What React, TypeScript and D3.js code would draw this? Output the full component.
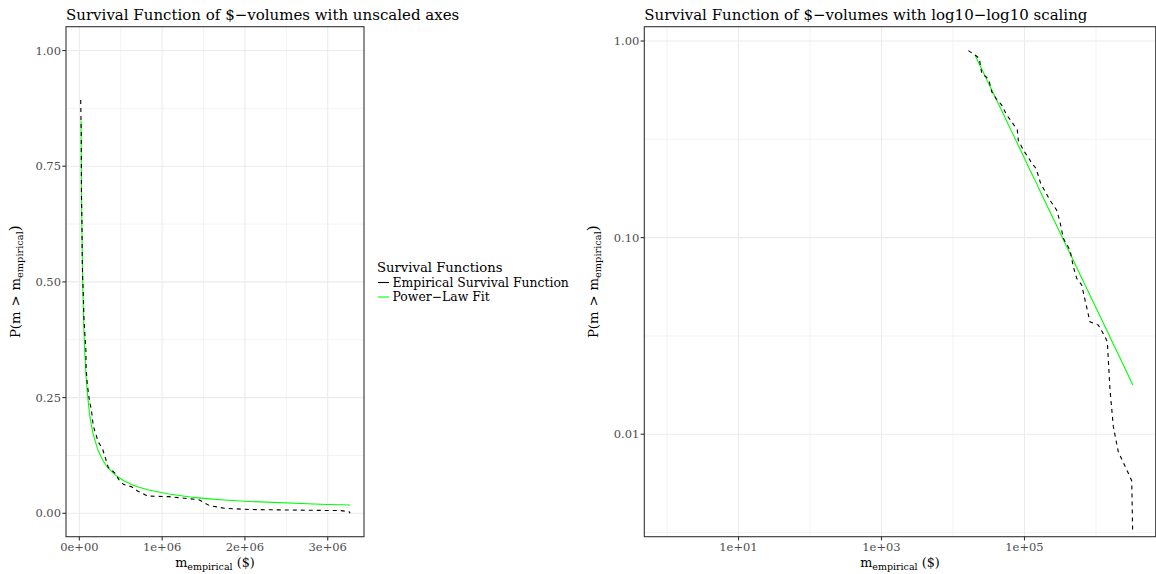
import React from 'react';
import * as d3 from 'd3';

// Dollar volume (m) at which the survival function is evaluated
const volumes = [
  16400, 20300, 23300, 25200, 29600, 32200, 34800, 39900, 48000, 56400,
  66200, 79300, 81900, 96200, 119000, 126000, 145000, 168000, 227000, 282000,
  314000, 349000, 433000, 482000, 537000, 631000, 702000, 824000, 1080000, 1340000,
  1440000, 1570000, 1750000, 2050000, 2990000, 3160000, 3260000, 3270000,
];

// Empirical P(m > m_empirical)
const empiricalSurvival = [
  0.893, 0.849, 0.817, 0.685, 0.653, 0.621, 0.552, 0.511, 0.472, 0.42,
  0.389, 0.352, 0.313, 0.279, 0.248, 0.239, 0.225, 0.189, 0.155, 0.138,
  0.12, 0.0991, 0.0865, 0.0711, 0.0621, 0.0574, 0.0482, 0.0373, 0.0359, 0.0313,
  0.0295, 0.0168, 0.0109, 0.00815, 0.00608, 0.0058, 0.00313, 0,
];

// Fitted power-law survival (defined from x_min upward)
const powerLawFit: (number | null)[] = [
  null, 0.849, 0.764, 0.721, 0.638, 0.598, 0.565, 0.508, 0.443, 0.391,
  0.346, 0.302, 0.294, 0.261, 0.221, 0.212, 0.191, 0.17, 0.1355, 0.115,
  0.106, 0.0977, 0.0831, 0.0766, 0.0705, 0.0624, 0.0575, 0.0509, 0.0415, 0.0352,
  0.0334, 0.0312, 0.0287, 0.0255, 0.0191, 0.0183, 0.0179, 0.0178,
];

const linearXTicks = [0, 1e6, 2e6, 3e6];
const linearXTickLabels = ['0e+00', '1e+06', '2e+06', '3e+06'];
const linearXMinor = [5e5, 1.5e6, 2.5e6];
const linearYTicks = [0, 0.25, 0.5, 0.75, 1];
const linearYTickLabels = ['0.00', '0.25', '0.50', '0.75', '1.00'];
const linearYMinor = [0.125, 0.375, 0.625, 0.875];

const logXTicks = [1e1, 1e3, 1e5];
const logXTickLabels = ['1e+01', '1e+03', '1e+05'];
const logXMinor = [1, 1e2, 1e4, 1e6];
const logYTicks = [0.01, 0.1, 1];
const logYTickLabels = ['0.01', '0.10', '1.00'];
const logYMinor = [Math.pow(10, -2.5), Math.pow(10, -1.5), Math.pow(10, -0.5)];

const titles = [
  'Survival Function of $\u2212volumes with unscaled axes',
  'Survival Function of $\u2212volumes with log10\u2212log10 scaling',
];
const legendTitle = 'Survival Functions';
const legendLabels = ['Empirical Survival Function', 'Power\u2212Law Fit'];
const seriesColors = ['#000000', '#00ff00'];

const FONT = '"DejaVu Serif", "Liberation Serif", serif';
const GRID = '#ebebeb';
const TICK_TEXT = '#4d4d4d';
const BORDER = '#333333';

const TOP = 26.7;
const BOTTOM = 536.7;

type Scale = (v: number) => number;

interface PanelProps {
  x: Scale;
  y: Scale;
  left: number;
  right: number;
  title: string;
  xTicks: number[];
  xLabels: string[];
  xMinor: number[];
  yTicks: number[];
  yLabels: string[];
  yMinor: number[];
  keep: (v: number) => boolean;
}

function Panel(p: PanelProps) {
  const emp = volumes
    .map((v, i) => [v, empiricalSurvival[i]] as [number, number])
    .filter((d) => p.keep(d[0]) && p.keep(d[1]));
  const fit = volumes
    .map((v, i) => [v, powerLawFit[i]] as [number, number | null])
    .filter((d) => d[1] !== null && p.keep(d[1] as number)) as [number, number][];

  const line = d3
    .line<[number, number]>()
    .x((d) => p.x(d[0]))
    .y((d) => p.y(d[1]));

  const cx = (p.left + p.right) / 2;
  const cy = (TOP + BOTTOM) / 2;

  return (
    <g>
      <text x={p.left} y={19.5} fontFamily={FONT} fontSize={15} fill="#000">
        {p.title}
      </text>
      <rect x={p.left} y={TOP} width={p.right - p.left} height={BOTTOM - TOP} fill="#fff" />
      {p.xMinor.map((v) => (
        <line key={'xm' + v} x1={p.x(v)} x2={p.x(v)} y1={TOP} y2={BOTTOM} stroke={GRID} strokeWidth={0.6} />
      ))}
      {p.yMinor.map((v) => (
        <line key={'ym' + v} x1={p.left} x2={p.right} y1={p.y(v)} y2={p.y(v)} stroke={GRID} strokeWidth={0.6} />
      ))}
      {p.xTicks.map((v) => (
        <line key={'xg' + v} x1={p.x(v)} x2={p.x(v)} y1={TOP} y2={BOTTOM} stroke={GRID} strokeWidth={1.1} />
      ))}
      {p.yTicks.map((v) => (
        <line key={'yg' + v} x1={p.left} x2={p.right} y1={p.y(v)} y2={p.y(v)} stroke={GRID} strokeWidth={1.1} />
      ))}
      <path d={line(fit) || ''} fill="none" stroke={seriesColors[1]} strokeWidth={1.1} />
      <path d={line(emp) || ''} fill="none" stroke={seriesColors[0]} strokeWidth={1.1} strokeDasharray="4,4" />
      <rect x={p.left} y={TOP} width={p.right - p.left} height={BOTTOM - TOP} fill="none" stroke={BORDER} strokeWidth={1.1} />
      {p.xTicks.map((v, i) => (
        <g key={'xt' + v}>
          <line x1={p.x(v)} x2={p.x(v)} y1={BOTTOM} y2={BOTTOM + 3.7} stroke={BORDER} strokeWidth={1.1} />
          <text x={p.x(v)} y={BOTTOM + 14.5} textAnchor="middle" fontFamily={FONT} fontSize={11.5} fill={TICK_TEXT}>
            {p.xLabels[i]}
          </text>
        </g>
      ))}
      {p.yTicks.map((v, i) => (
        <g key={'yt' + v}>
          <line x1={p.left - 3.7} x2={p.left} y1={p.y(v)} y2={p.y(v)} stroke={BORDER} strokeWidth={1.1} />
          <text x={p.left - 5} y={p.y(v) + 4.2} textAnchor="end" fontFamily={FONT} fontSize={11.5} fill={TICK_TEXT}>
            {p.yLabels[i]}
          </text>
        </g>
      ))}
      <text x={cx} y={567} textAnchor="middle" fontFamily={FONT} fontSize={12.8} fill="#000">
        <tspan>m</tspan>
        <tspan fontSize={9.5} dy={2.5}>empirical</tspan>
        <tspan dy={-2.5}> ($)</tspan>
      </text>
      <text
        transform={`translate(${p.left - 46},${cy}) rotate(-90)`}
        textAnchor="middle"
        fontFamily={FONT}
        fontSize={13.2}
        fill="#000"
      >
        <tspan>P(m</tspan>
        <tspan dx={5}>&gt;</tspan>
        <tspan dx={5}>m</tspan>
        <tspan fontSize={9.8} dy={2.5}>empirical</tspan>
        <tspan dy={-2.5} fontSize={15}>)</tspan>
      </text>
    </g>
  );
}

export default function App() {
  const leftL = 66;
  const leftR = 364;
  const rightL = 644.3;
  const rightR = 1155.7;

  const xLin = d3.scaleLinear().domain([-161000, 3438000]).range([leftL, leftR]);
  const yLin = d3.scaleLinear().domain([-0.0506, 1.0515]).range([BOTTOM, TOP]);
  const xLog = d3
    .scaleLog()
    .domain([Math.pow(10, -0.3175), Math.pow(10, 6.835)])
    .range([rightL, rightR]);
  const yLog = d3
    .scaleLog()
    .domain([Math.pow(10, -2.521), Math.pow(10, 0.0727)])
    .range([BOTTOM, TOP]);

  return (
    <svg
      width={1156}
      height={574}
      style={{ position: 'absolute', left: 0, top: 0, background: '#fff' }}
    >
      <rect width={1156} height={574} fill="#fff" />
      <Panel
        x={xLin}
        y={yLin}
        left={leftL}
        right={leftR}
        title={titles[0]}
        xTicks={linearXTicks}
        xLabels={linearXTickLabels}
        xMinor={linearXMinor}
        yTicks={linearYTicks}
        yLabels={linearYTickLabels}
        yMinor={linearYMinor}
        keep={() => true}
      />
      <Panel
        x={xLog}
        y={yLog}
        left={rightL}
        right={rightR}
        title={titles[1]}
        xTicks={logXTicks}
        xLabels={logXTickLabels}
        xMinor={logXMinor}
        yTicks={logYTicks}
        yLabels={logYTickLabels}
        yMinor={logYMinor}
        keep={(v) => v > 0}
      />
      <g fontFamily={FONT}>
        <text x={377} y={271.5} fontSize={13.2} fill="#000">
          {legendTitle}
        </text>
        {legendLabels.map((label, i) => (
          <g key={label}>
            <line
              x1={378}
              x2={389}
              y1={282.5 + i * 14.5}
              y2={282.5 + i * 14.5}
              stroke={seriesColors[i]}
              strokeWidth={1.1}
            />
            <text x={392.5} y={286.8 + i * 14.5} fontSize={12.4} fill="#000">
              {label}
            </text>
          </g>
        ))}
      </g>
    </svg>
  );
}
